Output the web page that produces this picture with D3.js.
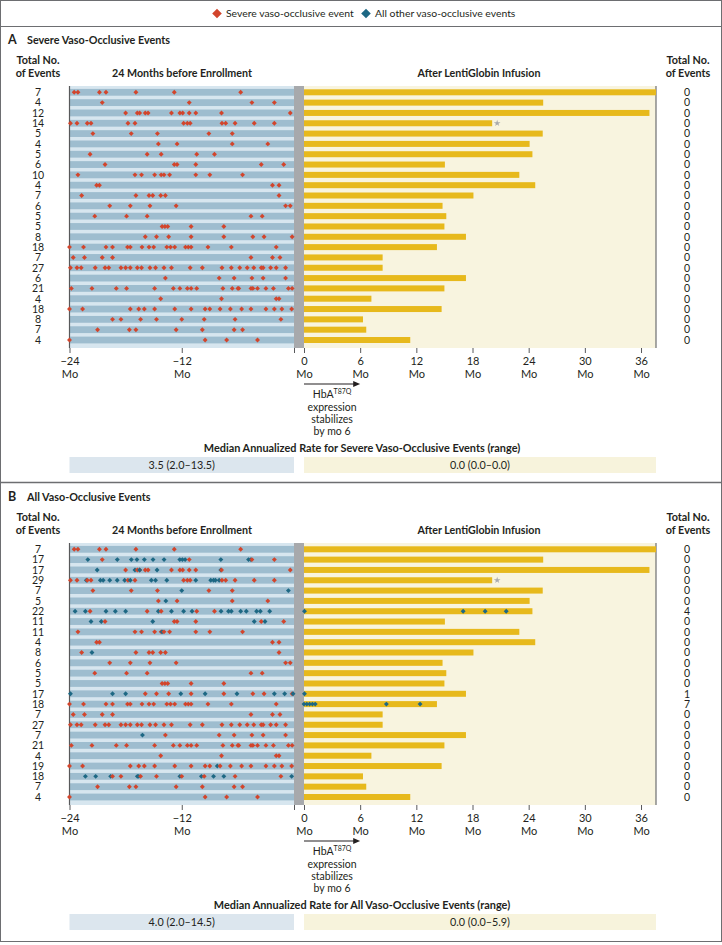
<!DOCTYPE html>
<html><head><meta charset="utf-8">
<script src="https://cdn.jsdelivr.net/npm/d3@7"></script>
<style>
html,body{margin:0;padding:0;background:#fff;}
svg text{font-family:"Lato","Noto Sans",sans-serif;fill:#231f20;}
</style></head><body>
<svg id="chart" width="722" height="945"></svg>
<script>
// ---------------- DATA ----------------
const totalSevere = [7,4,12,14,5,4,5,6,10,4,7,6,5,5,8,18,7,27,6,21,4,18,8,7,4];
const totalAll    = [7,17,17,29,7,5,22,11,11,4,8,6,5,5,17,18,7,27,7,21,4,19,18,7,4];
const afterSevere = [0,0,0,0,0,0,0,0,0,0,0,0,0,0,0,0,0,0,0,0,0,0,0,0,0];
const afterAll    = [0,0,0,0,0,0,4,0,0,0,0,0,0,0,1,7,0,0,0,0,0,0,0,0,0];
// follow-up after infusion (months)
const followUp = [37.6,25.55,36.9,20.1,25.5,24.1,24.4,15.05,23.0,24.7,18.1,14.8,15.2,15.0,17.3,14.2,8.4,8.4,17.3,15.0,7.2,14.7,6.3,6.65,11.35];
// severe events in 24 months before enrollment (months relative to enrollment)
const severeBefore = [
 [-23.5,-23.1,-20.8,-20.1,-16.9,-12.8,-5.7],
 [-20.5,-11.2,-4.5,-2.1],
 [-18.0,-16.75,-16.5,-15.9,-15.6,-13.1,-12.2,-11.9,-11.2,-10.5,-7.75,-0.4],
 [-23.9,-23.2,-22.1,-21.7,-17.75,-17.0,-11.8,-11.4,-11.1,-7.7,-7.3,-6.3,-4.25,-2.1],
 [-21.5,-17.4,-14.6,-9.1,-6.6],
 [-14.5,-12.5,-6.6,-2.8],
 [-21.8,-15.7,-14.2,-10.4,-8.5],
 [-20.2,-12.8,-12.5,-10.5,-3.5,-1.1],
 [-23.1,-17.0,-16.3,-14.9,-14.2,-13.9,-13.3,-10.5,-9.0,-5.5],
 [-21.1,-20.8,-2.3,-1.6],
 [-22.7,-16.9,-15.5,-15.1,-14.25,-13.75,-1.6],
 [-19.7,-17.5,-15.4,-12.6,-0.9,-0.4],
 [-21.3,-17.9,-15.7,-4.6,-3.4],
 [-14.1,-13.8,-13.5,-11.0,-7.5],
 [-15.9,-14.7,-13.4,-11.0,-7.5,-4.4,-3.2,-0.2],
 [-24.0,-22.5,-20.1,-19.4,-17.8,-17.5,-16.25,-15.5,-15.0,-13.6,-13.2,-12.75,-11.6,-11.3,-11.0,-9.2,-6.7,-1.9],
 [-23.6,-22.4,-20.5,-19.4,-4.6,-2.3,-1.5],
 [-23.9,-23.2,-22.75,-21.25,-20.2,-19.8,-18.5,-18.0,-17.5,-16.75,-16.3,-15.4,-14.8,-13.9,-13.1,-11.1,-9.8,-7.7,-6.7,-5.8,-5.0,-4.3,-3.5,-3.3,-2.5,-1.9,-0.9],
 [-13.75,-8.0,-6.4,-4.5,-3.3,-0.9],
 [-23.8,-21.6,-19.0,-17.9,-14.9,-12.9,-12.2,-11.4,-11.0,-10.4,-7.6,-6.6,-6.0,-5.9,-4.6,-4.4,-3.9,-3.0,-2.2,-0.6,-0.2],
 [-14.25,-7.75,-1.9,-1.6],
 [-24.0,-22.6,-17.5,-16.6,-16.0,-14.9,-12.75,-11.0,-9.5,-9.0,-7.9,-6.8,-5.6,-4.6,-3.0,-2.1,-1.3,-0.25],
 [-19.4,-18.5,-16.4,-14.7,-12.0,-9.6,-6.3,-1.4],
 [-21.0,-17.6,-16.9,-12.6,-9.8,-6.4,-5.5],
 [-24.0,-9.5,-7.2,-3.9]
];
// other (non-severe) events before enrollment
const otherBefore = [
 [],
 [-22.04,-18.89,-17.39,-16.79,-16.0,-15.07,-13.89,-12.21,-11.93,-11.64,-7.82,-4.86,-4.61],
 [-21.04,-17.0,-16.5,-14.64,-7.82],
 [-22.2,-20.7,-20.4,-19.7,-18.9,-18.1,-17.5,-15.25,-14.8,-13.6,-10.5,-8.9,-8.6,-8.4,-8.0],
 [-12.0,-0.6],
 [-13.7],
 [-23.4,-22.3,-20.1,-19.1,-18.0,-14.5,-13.1,-11.8,-10.9,-7.8,-7.0,-6.7,-5.7,-5.1,-4.0,-3.6,-2.6],
 [-21.7,-20.6,-15.1,-4.25,-3.1],
 [-14.1],
 [],
 [-21.6],
 [],[],[],
 [-23.9,-19.4,-18.0,-12.1,-9.5,-6.1,-2.1,-1.0,-0.1],
 [],[],[],
 [-16.2],
 [],[],
 [-8.2],
 [-22.3,-21.2,-19.6,-16.75,-16.6,-12.2,-9.9,-8.6,-7.5,-0.25],
 [],[]
];
// other events after infusion
const otherAfter = [
 [],[],[],[],[],[],
 [0.05,17.0,19.35,21.6],
 [],[],[],[],[],[],[],
 [0.05],
 [0.0,0.3,0.6,0.9,1.2,8.8,12.4],
 [],[],[],[],[],[],[],[],[]
];
const leftTicks = [-24,-12,0];
const rightTicks = [0,6,12,18,24,30,36];
const panels = [
 {letter:"A", title:"Severe Vaso-Occlusive Events", totals:totalSevere, after:afterSevere, blue:false,
  rateTitle:"Median Annualized Rate for Severe Vaso-Occlusive Events (range)", rateBefore:"3.5 (2.0\u201313.5)", rateAfter:"0.0 (0.0\u20130.0)"},
 {letter:"B", title:"All Vaso-Occlusive Events", totals:totalAll, after:afterAll, blue:true,
  rateTitle:"Median Annualized Rate for All Vaso-Occlusive Events (range)", rateBefore:"4.0 (2.0\u201314.5)", rateAfter:"0.0 (0.0\u20135.9)"}
];

// ---------------- STYLE / LAYOUT ----------------
const RED = "#d2452c", BLUE = "#1d6884";
const svg = d3.select("#chart");
const xL = d3.scaleLinear().domain([-24,0]).range([69.5,294]);
const xR = d3.scaleLinear().domain([0,37.6]).range([304,656]);
const nRows = totalSevere.length;
const rowIdx = d3.range(nRows);

// frame
svg.append("rect").attr("x",0.5).attr("y",0.5).attr("width",721).attr("height",941)
  .attr("fill","none").attr("stroke","#6d6e71").attr("stroke-width",1);
svg.append("line").attr("x1",0).attr("x2",722).attr("y1",26.5).attr("y2",26.5).attr("stroke","#6d6e71");
svg.append("line").attr("x1",0).attr("x2",722).attr("y1",482.5).attr("y2",482.5).attr("stroke","#6d6e71").attr("stroke-width",1.5);

// legend
const diamond = s => d3.symbol().type(d3.symbolSquare).size(s);
const leg = [{c:RED,t:"Severe vaso-occlusive event",x:217},{c:BLUE,t:"All other vaso-occlusive events",x:366}];
leg.forEach(l=>{
  svg.append("path").attr("d",diamond(46)()).attr("transform",`translate(${l.x},13.5) rotate(45)`).attr("fill",l.c);
  svg.append("text").attr("x",l.x+9).attr("y",17.3).attr("font-size",10.4).text(l.t);
});

panels.forEach((p,pi)=>{
  const oy = pi*457;
  const g = svg.append("g").attr("transform",`translate(0,${oy})`);
  const yC = d3.scaleLinear().domain([0,nRows-1]).range([92.3,340]);
  const top = 86, bot = 348;

  g.append("text").attr("x",8).attr("y",44).attr("font-size",12.5).attr("font-weight","bold").text(p.letter);
  g.append("text").attr("x",27).attr("y",44).attr("font-size",10.8).attr("font-weight","bold").text(p.title);
  [38,688].forEach(cx=>{
    g.append("text").attr("x",cx).attr("y",64).attr("text-anchor","middle").attr("font-size",10.8).attr("font-weight","bold").text("Total No.");
    g.append("text").attr("x",cx).attr("y",77).attr("text-anchor","middle").attr("font-size",10.8).attr("font-weight","bold").text("of Events");
  });
  g.append("text").attr("x",182).attr("y",77).attr("text-anchor","middle").attr("font-size",10.7).attr("font-weight","bold").text("24 Months before Enrollment");
  g.append("text").attr("x",479).attr("y",77).attr("text-anchor","middle").attr("font-size",10.7).attr("font-weight","bold").text("After LentiGlobin Infusion");

  // backgrounds
  g.append("rect").attr("x",xL(-24)).attr("y",top).attr("width",xL(0)-xL(-24)).attr("height",bot-top).attr("fill","#d7e6ef");
  g.append("rect").attr("x",xR(0)).attr("y",top).attr("width",xR(37.6)-xR(0)).attr("height",bot-top).attr("fill","#f8f4df");
  g.selectAll(".band").data(rowIdx).join("rect")
    .attr("x",xL(-24)).attr("width",xL(0)-xL(-24))
    .attr("y",i=>yC(i)-3.4).attr("height",6.8).attr("fill","#9ebdcf");
  g.append("rect").attr("x",xL(0)).attr("y",top).attr("width",xR(0)-xL(0)).attr("height",bot-top).attr("fill","#a7a9ac");
  g.append("line").attr("x1",xL(-24)).attr("x2",xL(-24)).attr("y1",top).attr("y2",bot).attr("stroke","#58595b").attr("stroke-width",1.2);
  g.append("line").attr("x1",xR(37.6)).attr("x2",xR(37.6)).attr("y1",top).attr("y2",bot).attr("stroke","#6d6e71").attr("stroke-width",1.2);

  // bars
  g.selectAll(".bar").data(rowIdx).join("rect")
    .attr("x",xR(0)).attr("width",i=>xR(followUp[i])-xR(0))
    .attr("y",i=>yC(i)-3).attr("height",6).attr("fill","#e7b91c");
  // asterisk
  g.append("path").attr("d",d3.symbol().type(d3.symbolStar).size(14)())
    .attr("transform",`translate(${xR(followUp[3])+5},${yC(3)})`).attr("fill","#a7a9ac");

  // events
  const ev = [];
  rowIdx.forEach(i=>{
    severeBefore[i].forEach(m=>ev.push({x:xL(m),y:yC(i),c:RED,m}));
    if(p.blue){
      otherBefore[i].forEach(m=>ev.push({x:xL(m),y:yC(i),c:BLUE,m}));
      otherAfter[i].forEach(m=>ev.push({x:xR(m),y:yC(i),c:BLUE,m:m+100}));
    }
  });
  ev.sort((a,b)=>a.m-b.m);
  g.selectAll(".ev").data(ev).join("path")
    .attr("d",diamond(12)()).attr("transform",d=>`translate(${d.x},${d.y}) rotate(45)`).attr("fill",d=>d.c);

  // counts
  g.selectAll(".cl").data(rowIdx).join("text").attr("x",38).attr("y",i=>yC(i)+3.8)
    .attr("text-anchor","middle").attr("font-size",10.5).text(i=>p.totals[i]);
  g.selectAll(".cr").data(rowIdx).join("text").attr("x",687).attr("y",i=>yC(i)+3.8)
    .attr("text-anchor","middle").attr("font-size",10.5).text(i=>p.after[i]);

  // axes
  const fmt = v => (v<0? "\u2212"+Math.abs(v) : String(v));
  const axL = g.append("g").attr("transform",`translate(0,${bot})`)
    .call(d3.axisBottom(xL).tickValues(leftTicks).tickSize(5).tickFormat(v=>v===0?"":fmt(v)));
  const axR = g.append("g").attr("transform",`translate(0,${bot})`)
    .call(d3.axisBottom(xR).tickValues(rightTicks).tickSize(5).tickFormat(fmt));
  [axL,axR].forEach(ax=>{
    ax.select(".domain").remove();
    ax.selectAll(".tick line").attr("stroke","#58595b");
    ax.selectAll(".tick text").each(function(){
      const t = d3.select(this); const s = t.text();
      t.text(null).attr("y",0).attr("dy",null)
        .attr("font-family",null).attr("font-size",null).style("font-size","11px");
      if(s!==""){
        t.append("tspan").attr("x",0).attr("y",16.5).text(s);
        t.append("tspan").attr("x",0).attr("y",30).text("Mo");
      }
    });
  });

  // annotation arrow
  const ay = 384;
  g.append("line").attr("x1",xR(0)).attr("x2",xR(6)-5).attr("y1",ay).attr("y2",ay).attr("stroke","#231f20").attr("stroke-width",1.2);
  g.append("path").attr("d",`M${xR(6)},${ay} L${xR(6)-7},${ay-3} L${xR(6)-7},${ay+3} Z`).attr("fill","#231f20");
  const ax0 = (xR(0)+xR(6))/2;
  const hb = g.append("text").attr("x",ax0).attr("y",397.5).attr("text-anchor","middle").attr("font-size",10.5);
  hb.append("tspan").text("HbA");
  hb.append("tspan").attr("font-size",7).attr("dy",-4).text("T87Q");
  ["expression","stabilizes","by mo 6"].forEach((s,k)=>{
    g.append("text").attr("x",ax0).attr("y",410.5+k*12).attr("text-anchor","middle").attr("font-size",10.5).text(s);
  });

  // median rate
  g.append("text").attr("x",362).attr("y",451.5).attr("text-anchor","middle").attr("font-size",10.9).attr("font-weight","bold").text(p.rateTitle);
  g.append("rect").attr("x",xL(-24)).attr("y",457).attr("width",xL(0)-xL(-24)).attr("height",16).attr("fill","#dce6ee");
  g.append("rect").attr("x",xR(0)).attr("y",457).attr("width",xR(37.6)-xR(0)).attr("height",16).attr("fill","#f7f3dc");
  g.append("text").attr("x",(xL(-24)+xL(0))/2).attr("y",468.8).attr("text-anchor","middle").attr("font-size",10.8).text(p.rateBefore);
  g.append("text").attr("x",(xR(0)+xR(37.6))/2).attr("y",468.8).attr("text-anchor","middle").attr("font-size",10.8).text(p.rateAfter);
});
</script>
</body></html>
